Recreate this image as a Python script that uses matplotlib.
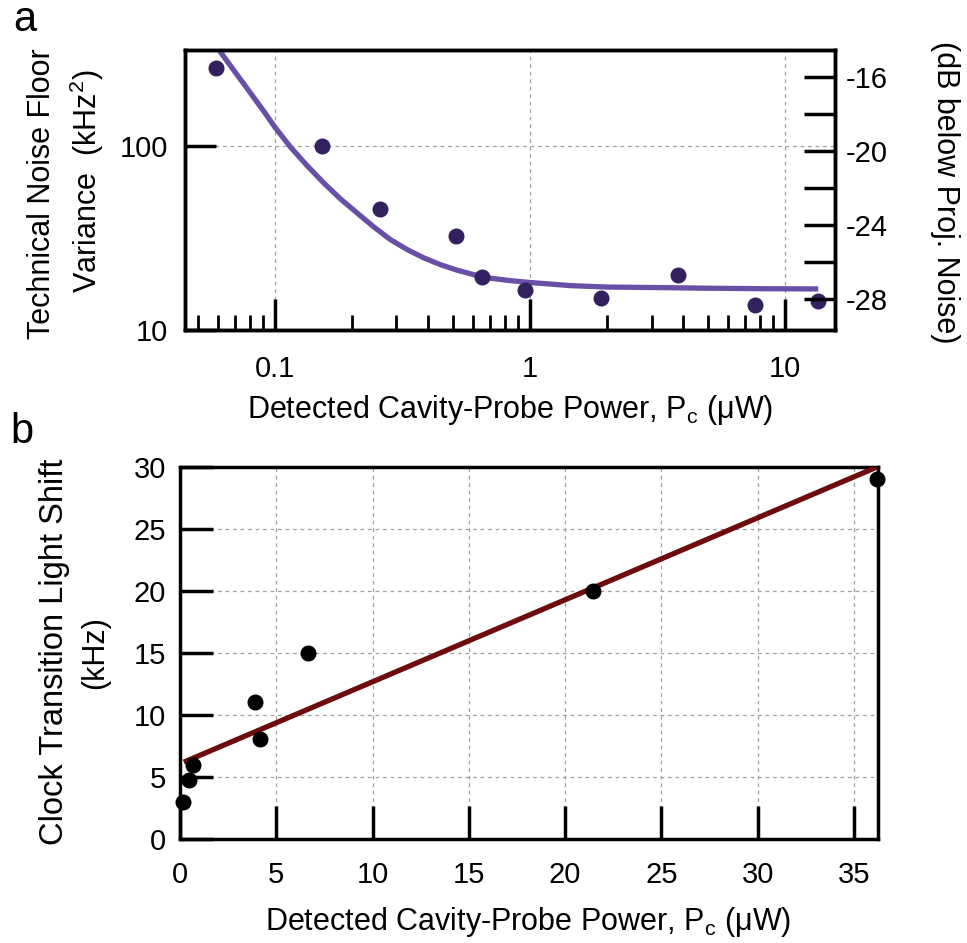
import numpy as np
import matplotlib
matplotlib.use("Agg")
from matplotlib import pyplot as plt
from matplotlib.ticker import FixedLocator, NullFormatter, LogLocator

plt.rcParams["font.family"] = ["Liberation Sans", "DejaVu Sans"]

# panel a: technical noise floor
power_a = [0.0589, 0.153, 0.258, 0.515, 0.647, 0.956, 1.90, 3.81, 7.6, 13.5]
variance_a = [265, 100, 45.4, 32.5, 19.3, 16.5, 15.0, 19.8, 13.6, 14.3]
fit_power_a = [0.0603, 0.0691, 0.0803, 0.0906, 0.1, 0.1152, 0.1339, 0.1557, 0.181, 0.2104,
               0.2446, 0.2843, 0.3305, 0.3842, 0.4465, 0.519, 0.6034, 0.7014, 0.8152, 1.0,
               1.45, 2.0, 3.0, 5.0, 8.0, 13.5]
fit_variance_a = [331.8, 256.3, 193.1, 153.6, 126.3, 98.3, 77.9, 62.7, 51.4, 43.1,
                  36.2, 30.9, 27.3, 24.6, 22.6, 21.1, 19.95, 19.1, 18.6, 18.1,
                  17.4, 17.1, 17.0, 16.85, 16.75, 16.7]
db_ticks = [-16, -20, -24, -28]
db_minor = [-18, -22, -26]

# panel b: clock transition light shift
power_b = [0.13, 0.48, 0.7, 3.9, 4.17, 6.67, 21.44, 36.2]
shift_b = [3.0, 4.72, 5.96, 11.05, 8.05, 15.0, 19.96, 29.03]
fit_power_b = [0.2, 36.2]
fit_shift_b = [6.2, 30.0]

TICK_FS = 21
LABEL_FS = 22
XLABEL = r"Detected Cavity-Probe Power, P$_\mathregular{c}$ ($\mathregular{\mu}$W)"
GRID = dict(color="#a0a0a0", linestyle=(0, (3, 3)), linewidth=0.9)

fig = plt.figure(figsize=(9.67, 9.43), dpi=100)

# ---- panel a
ax = fig.add_axes([185 / 967, 1 - 330 / 943, 650 / 967, 280 / 943])
ax.set_xscale("log")
ax.set_yscale("log")
ax.plot(fit_power_a, fit_variance_a, color="#6a4fa6", linewidth=3.8,
        solid_joinstyle="round", solid_capstyle="butt", zorder=3)
ax.plot(power_a, variance_a, "o", color="#33205f", markersize=10.5, zorder=4, clip_on=False)
ax.set_xlim(0.0445, 15.7)
ax.set_ylim(10, 330)
ax.set_xticks([0.1, 1, 10])
ax.set_xticklabels(["0.1", "1", "10"])
ax.xaxis.set_minor_locator(LogLocator(base=10, subs=np.arange(2, 10)))
ax.xaxis.set_minor_formatter(NullFormatter())
ax.set_yticks([10, 100])
ax.set_yticklabels(["10", "100"])
ax.yaxis.set_minor_locator(FixedLocator([]))
ax.grid(True, which="major", **GRID)
ax.tick_params(axis="x", which="major", direction="in", length=22, width=2.5, pad=18, labelsize=TICK_FS, top=False)
ax.tick_params(axis="x", which="minor", direction="in", length=11, width=2.0, top=False)
ax.tick_params(axis="y", which="major", direction="in", length=22, width=2.5, pad=12, labelsize=TICK_FS, right=False)
for s in ax.spines.values():
    s.set_linewidth(2.5)

ax2 = ax.twinx()
ax2.set_ylim(-29.68, -14.52)
ax2.set_yticks(db_ticks)
ax2.set_yticklabels([str(t) for t in db_ticks])
ax2.yaxis.set_minor_locator(FixedLocator(db_minor))
ax2.tick_params(axis="y", which="major", direction="in", length=22, width=2.5, pad=8, labelsize=TICK_FS)
ax2.tick_params(axis="y", which="minor", direction="in", length=22, width=2.5)
for s in ax2.spines.values():
    s.set_linewidth(2.5)

fig.text(510 / 967, 1 - 410 / 943, XLABEL, ha="center", va="center", fontsize=LABEL_FS)
fig.text(42 / 967, 1 - 194 / 943, "Technical Noise Floor", rotation=90, ha="center", va="center", fontsize=LABEL_FS)
fig.text(87 / 967, 1 - 181 / 943, r"Variance  (kHz$^\mathregular{2}$)", rotation=90, ha="center", va="center", fontsize=LABEL_FS)
fig.text(945 / 967, 1 - 192 / 943, "(dB below Proj. Noise)", rotation=270, ha="center", va="center", fontsize=LABEL_FS)
fig.text(25 / 967, 1 - 20 / 943, "a", ha="center", va="center", fontsize=30)

# ---- panel b
bx = fig.add_axes([180 / 967, 1 - 839 / 943, 698 / 967, 372 / 943])
bx.plot(fit_power_b, fit_shift_b, color="#6e0c0c", linewidth=3.8, solid_capstyle="butt", zorder=3)
bx.plot(power_b, shift_b, "o", color="black", markersize=10.5, zorder=4, clip_on=False)
bx.set_xlim(0, 36.25)
bx.set_ylim(0, 30)
bx.set_xticks(np.arange(0, 40, 5))
bx.set_yticks(np.arange(0, 35, 5))
bx.grid(True, **GRID)
bx.tick_params(axis="x", direction="in", length=24, width=2.5, pad=16, labelsize=TICK_FS, top=False)
bx.tick_params(axis="y", direction="in", length=24, width=2.5, pad=10, labelsize=TICK_FS, right=False)
for s in bx.spines.values():
    s.set_linewidth(2.5)

fig.text(528 / 967, 1 - 922 / 943, XLABEL, ha="center", va="center", fontsize=LABEL_FS)
fig.text(55 / 967, 1 - 652 / 943, "Clock Transition Light Shift", rotation=90, ha="center", va="center", fontsize=23.5)
fig.text(95 / 967, 1 - 653 / 943, "(kHz)", rotation=90, ha="center", va="center", fontsize=LABEL_FS)
fig.text(22 / 967, 1 - 432 / 943, "b", ha="center", va="center", fontsize=30)

fig.savefig("out.png", dpi=100)
